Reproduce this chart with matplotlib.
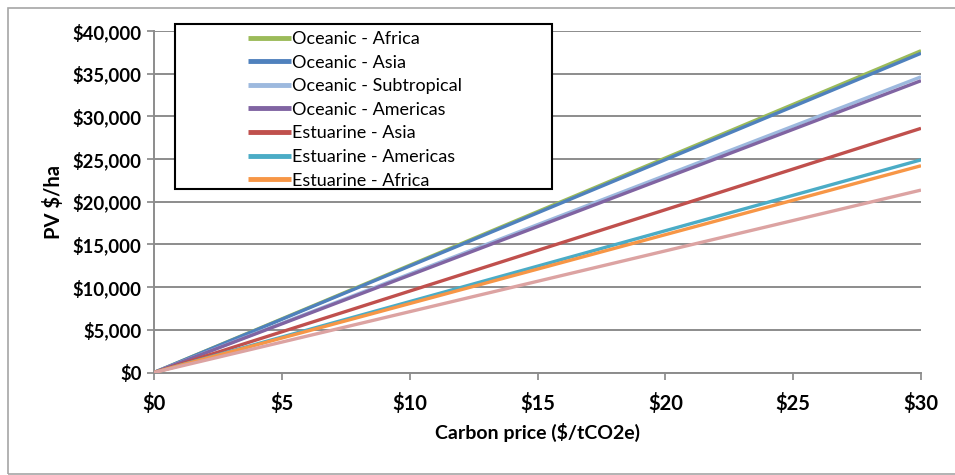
import matplotlib
matplotlib.use("Agg")
import matplotlib.pyplot as plt
from matplotlib.patches import Rectangle
from matplotlib.ticker import FuncFormatter

plt.rcParams['font.family'] = ['Lato', 'DejaVu Sans']

carbon_price = [0, 5, 10, 15, 20, 25, 30]
series_names = ["Oceanic - Africa", "Oceanic - Asia", "Oceanic - Subtropical",
                "Oceanic - Americas", "Estuarine - Asia", "Estuarine - Americas",
                "Estuarine - Africa", None]
oceanic_africa = [0, 6280, 12560, 18840, 25120, 31400, 37680]
oceanic_asia = [0, 6230, 12460, 18690, 24920, 31150, 37380]
oceanic_subtropical = [0, 5770, 11540, 17310, 23080, 28850, 34620]
oceanic_americas = [0, 5695, 11390, 17085, 22780, 28475, 34170]
estuarine_asia = [0, 4765, 9530, 14295, 19060, 23825, 28590]
estuarine_americas = [0, 4150, 8300, 12450, 16600, 20750, 24900]
estuarine_africa = [0, 4035, 8070, 12105, 16140, 20175, 24210]
estuarine_other = [0, 3560, 7120, 10680, 14240, 17800, 21360]
series_values = [oceanic_africa, oceanic_asia, oceanic_subtropical, oceanic_americas,
                 estuarine_asia, estuarine_americas, estuarine_africa, estuarine_other]
colors = ["#9BBB59", "#4F81BD", "#9DB9DE", "#8064A2", "#C0504D", "#4BACC6",
          "#F79646", "#DCA3A2"]
x_ticks = [0, 5, 10, 15, 20, 25, 30]
y_ticks = [0, 5000, 10000, 15000, 20000, 25000, 30000, 35000, 40000]

W, H = 955, 475
fig = plt.figure(figsize=(W / 100, H / 100), dpi=100)

# outer chart frame
fig.patches.append(Rectangle((8 / W, 1 / H), 1.2, (H - 8 - 1) / H,
                             transform=fig.transFigure, fill=False,
                             edgecolor="#A6A6A6", linewidth=1.2, zorder=0))

ax = fig.add_axes([154 / W, 1 - 372.5 / H, (921 - 154) / W, (372.5 - 30.9) / H])

handles = []
for name, vals, c in zip(series_names, series_values, colors):
    ln, = ax.plot(carbon_price, vals, color=c, linewidth=2.4,
                  solid_capstyle='butt', zorder=3)
    if name:
        handles.append((ln, name))

ax.set_xlim(0, 30)
ax.set_ylim(0, 40000)
ax.set_xticks(x_ticks)
ax.set_yticks(y_ticks)
ax.xaxis.set_major_formatter(FuncFormatter(lambda v, p: f"${v:,.0f}"))
ax.yaxis.set_major_formatter(FuncFormatter(lambda v, p: f"${v:,.0f}"))
for lab in ax.get_xticklabels() + ax.get_yticklabels():
    lab.set_fontweight('bold')
ax.tick_params(axis='x', labelsize=14.5, length=5, width=1.2, color="#868686", pad=10)
ax.tick_params(axis='y', labelsize=13.3, length=5, width=1.2, color="#868686", pad=4)
ax.grid(axis='y', color="#8C8C8C", linewidth=1.4, zorder=1)
ax.set_axisbelow(True)
for s in ['top', 'right']:
    ax.spines[s].set_visible(False)
for s in ['left', 'bottom']:
    ax.spines[s].set_color("#8C8C8C")
    ax.spines[s].set_linewidth(1.4)

ax.set_ylabel("PV $/ha", fontsize=14.5, fontweight='bold', labelpad=6)
ax.set_xlabel("Carbon price ($/tCO2e)", fontsize=14, fontweight='bold', labelpad=6)

# legend box
fig.patches.append(Rectangle((175 / W, 1 - 189 / H), (552 - 175) / W, (189 - 24) / H,
                             transform=fig.transFigure, facecolor="white",
                             edgecolor="black", linewidth=1.5, zorder=5))
leg = fig.legend([h for h, _ in handles], [n for _, n in handles],
                 loc='upper left', bbox_to_anchor=(239 / W, 1 - 22 / H),
                 frameon=False, fontsize=13, handlelength=2.4,
                 handletextpad=0.05, labelspacing=0.42, borderpad=0.0)
leg.set_zorder(6)
for l in leg.get_lines():
    l.set_linewidth(3.5)

fig.savefig("out.png", dpi=100)
